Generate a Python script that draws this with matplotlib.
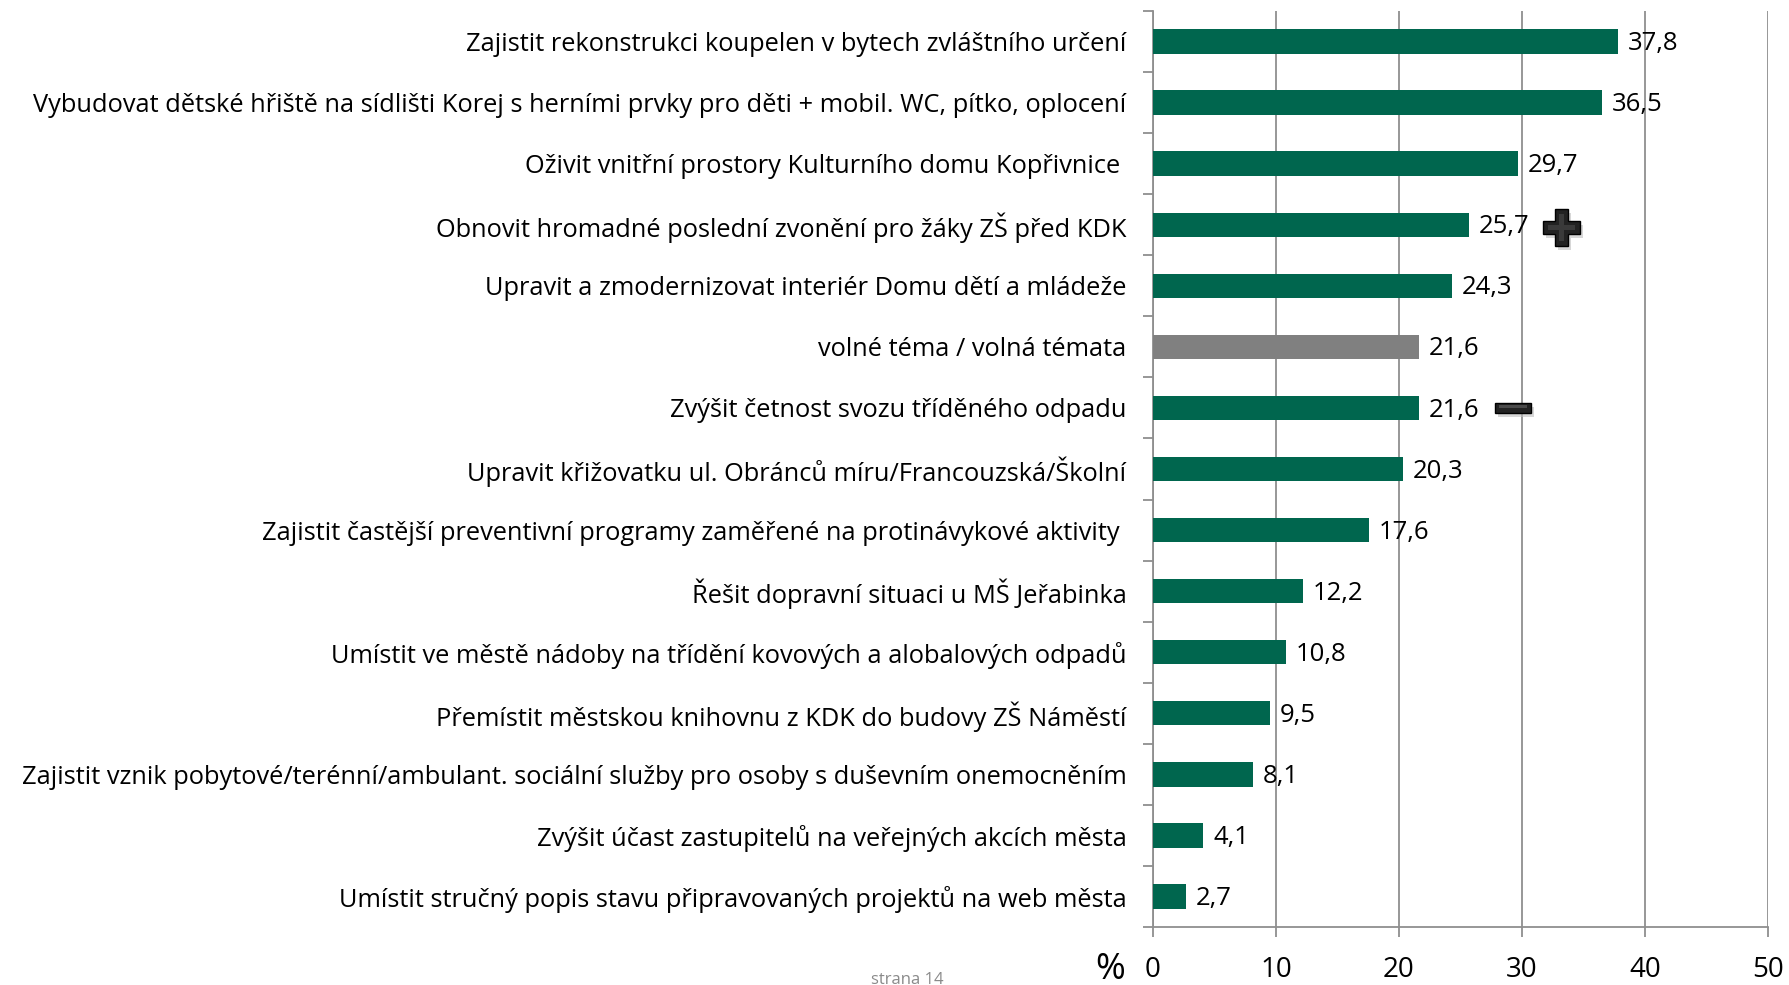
import numpy as np
import matplotlib
matplotlib.use("Agg")
import matplotlib.pyplot as plt
from matplotlib.patches import Polygon

plt.rcParams['font.family'] = ['Open Sans', 'DejaVu Sans']

labels = [
    "Zajistit rekonstrukci koupelen v bytech zvláštního určení",
    "Vybudovat dětské hřiště na sídlišti Korej s herními prvky pro děti + mobil. WC, pítko, oplocení",
    "Oživit vnitřní prostory Kulturního domu Kopřivnice ",
    "Obnovit hromadné poslední zvonění pro žáky ZŠ před KDK",
    "Upravit a zmodernizovat interiér Domu dětí a mládeže",
    "volné téma / volná témata",
    "Zvýšit četnost svozu tříděného odpadu",
    "Upravit křižovatku ul. Obránců míru/Francouzská/Školní",
    "Zajistit častější preventivní programy zaměřené na protinávykové aktivity ",
    "Řešit dopravní situaci u MŠ Jeřabinka",
    "Umístit ve městě nádoby na třídění kovových a alobalových odpadů",
    "Přemístit městskou knihovnu z KDK do budovy ZŠ Náměstí",
    "Zajistit vznik pobytové/terénní/ambulant. sociální služby pro osoby s duševním onemocněním",
    "Zvýšit účast zastupitelů na veřejných akcích města",
    "Umístit stručný popis stavu připravovaných projektů na web města",
]
values = [37.8, 36.5, 29.7, 25.7, 24.3, 21.6, 21.6, 20.3, 17.6, 12.2, 10.8, 9.5, 8.1, 4.1, 2.7]
is_free_topic = [False, False, False, False, False, True, False, False, False, False, False, False, False, False, False]
x_ticks = [0, 10, 20, 30, 40, 50]

GREEN = '#00664E'
GREY_BAR = '#808080'
GRID = '#8f8f8f'

W, H = 1789, 985
fig = plt.figure(figsize=(W / 100, H / 100), dpi=100)
ax = fig.add_axes([1153 / W, 1 - 927 / H, (1768 - 1153) / W, (927 - 11) / H])

n = len(values)
ypos = np.arange(n)[::-1]
colors = [GREY_BAR if f else GREEN for f in is_free_topic]
ax.barh(ypos, values, height=0.40, color=colors, zorder=3)

for y, v in zip(ypos, values):
    ax.annotate(f"{v:.1f}".replace('.', ','), (v, y), xytext=(7, -1.5),
                textcoords='offset points', va='center', ha='left',
                fontsize=18.5, zorder=4)

ax.set_xlim(0, 50)
ax.set_ylim(-0.5, n - 0.5)
ax.set_xticks(x_ticks)
ax.set_xticklabels([str(t) for t in x_ticks], fontsize=20)
ax.set_yticks(ypos)
ax.set_yticklabels(labels, fontsize=18.3)
ax.set_yticks(np.arange(-0.5, n, 1), minor=True)
ax.tick_params(axis='y', which='major', length=0, pad=19)
ax.tick_params(axis='y', which='minor', length=7, color=GRID, width=1.3, direction='out')
ax.tick_params(axis='x', length=7, color=GRID, width=1.3, pad=14)

ax.grid(axis='x', color=GRID, linewidth=1.3, zorder=0)
for s in ['top', 'right']:
    ax.spines[s].set_visible(False)
for s in ['left', 'bottom']:
    ax.spines[s].set_color(GRID)
    ax.spines[s].set_linewidth(1.3)

fig.text(1110 / W, 1 - 970 / H, "%", fontsize=26, ha='center', va='center')
fig.text(907 / W, 1 - 980 / H, "strana 14", fontsize=12, color='#8a8a8a',
         ha='center', va='center')


def px_poly(pts, **kw):
    pts = [(x / W, 1 - y / H) for x, y in pts]
    fig.patches.append(Polygon(pts, closed=True, transform=fig.transFigure, **kw))


def plus_sign(cx, cy, size, arm):
    s, a = size / 2, arm / 2
    return [(cx - a, cy - s), (cx + a, cy - s), (cx + a, cy - a), (cx + s, cy - a),
            (cx + s, cy + a), (cx + a, cy + a), (cx + a, cy + s), (cx - a, cy + s),
            (cx - a, cy + a), (cx - s, cy + a), (cx - s, cy - a), (cx - a, cy - a)]


def minus_sign(cx, cy, w, h):
    return [(cx - w / 2, cy - h / 2), (cx + w / 2, cy - h / 2),
            (cx + w / 2, cy + h / 2), (cx - w / 2, cy + h / 2)]


# plus / minus markers
px_poly(plus_sign(1564, 231, 37, 13), facecolor='#bdbdbd', edgecolor='none', alpha=0.6)
px_poly(plus_sign(1561, 227, 37, 13), facecolor='#222222', edgecolor='#000000', linewidth=1)
px_poly(plus_sign(1561, 227, 27, 5), facecolor='#3a3a3a', edgecolor='none')
px_poly(minus_sign(1516, 412, 36, 10), facecolor='#bdbdbd', edgecolor='none', alpha=0.6)
px_poly(minus_sign(1513, 408, 36, 10), facecolor='#222222', edgecolor='#000000', linewidth=1)
px_poly(minus_sign(1513, 407, 28, 3), facecolor='#4a4a4a', edgecolor='none')

fig.savefig("out.png", dpi=100)
